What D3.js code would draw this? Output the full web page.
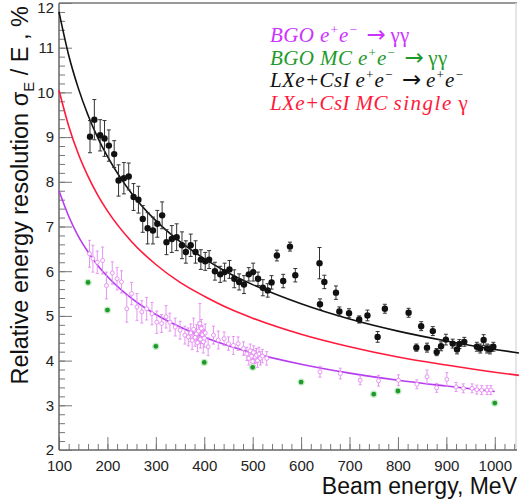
<!DOCTYPE html>
<html>
<head>
<meta charset="utf-8">
<script src="https://cdn.jsdelivr.net/npm/d3@7"></script>
<style>
  body { margin: 0; background: #fff; }
  svg { display: block; }
  .tick-label { font-family: "Liberation Sans", Arial, sans-serif; font-size: 15px; fill: #222; }
  .title { font-family: "Liberation Sans", Arial, sans-serif; font-size: 23px; fill: #111; }
  .legend { font-family: "Liberation Serif", "Times New Roman", serif; font-style: italic; font-size: 21px; letter-spacing: 0.4px; }
</style>
</head>
<body>
<div id="chart"></div>
<script>
// fit curves
var fitE = [100, 120, 140, 160, 180, 200, 250, 300, 350, 400, 450, 500, 600, 700, 800, 900, 1000, 1050];
var lxeFit = [11.8, 10.83, 10.09, 9.49, 8.99, 8.57, 7.74, 7.13, 6.66, 6.28, 5.96, 5.70, 5.27, 4.93, 4.66, 4.44, 4.25, 4.17];
var lxeMcFit = [10.05, 9.25, 8.62, 8.12, 7.70, 7.35, 6.66, 6.15, 5.75, 5.44, 5.17, 4.95, 4.59, 4.31, 4.08, 3.90, 3.74, 3.67];
var bgoFitE = [100, 120, 140, 160, 180, 200, 250, 300, 350, 400, 450, 500, 600, 700, 800, 900, 1000];
var bgoFit = [7.80, 7.23, 6.78, 6.43, 6.13, 5.88, 5.39, 5.03, 4.75, 4.52, 4.33, 4.17, 3.92, 3.72, 3.56, 3.43, 3.31];

// LXe+CsI e+e- -> e+e- data
var lxeE = [164, 173, 185, 194, 203, 214, 223, 234, 244, 254, 264, 273, 283, 294, 303, 313, 322, 333, 343, 354, 362, 372, 382,
  393, 402, 410, 422, 433, 442, 452, 462, 472, 482, 492, 501, 511, 521, 531, 539, 550, 563, 577, 588, 638, 639, 648, 672,
  679, 699, 720, 737, 758, 773, 822, 838, 848, 860, 872, 880, 889, 899, 913, 922, 927, 937, 963, 970, 977, 984, 990, 997];
var lxeRes = [9.01, 9.39, 9.04, 8.97, 8.81, 8.62, 8.03, 8.08, 8.12, 7.66, 7.60, 7.17, 6.96, 6.91, 7.06, 7.25, 6.65, 6.72, 6.76, 6.58, 6.43, 6.58, 6.43,
  6.26, 6.22, 6.26, 6.00, 5.93, 5.98, 6.04, 5.83, 5.76, 5.70, 5.93, 5.98, 5.83, 5.63, 5.57, 5.75, 6.35, 5.78, 6.55, 5.91, 6.18, 5.26, 5.76, 5.52,
  5.10, 5.06, 4.92, 5.01, 4.53, 5.16, 5.07, 4.29, 4.77, 4.29, 4.66, 4.19, 4.32, 4.47, 4.38, 4.25, 4.37, 4.42, 4.31, 4.27, 4.46, 4.27, 4.25, 4.31];
var lxeErr = [0.36, 0.45, 0.35, 0.4, 0.35, 0.3, 0.35, 0.35, 0.3, 0.3, 0.3, 0.3, 0.35, 0.3, 0.3, 0.3, 0.28, 0.3, 0.3, 0.3, 0.25, 0.25, 0.25,
  0.22, 0.2, 0.2, 0.2, 0.18, 0.2, 0.2, 0.2, 0.18, 0.2, 0.15, 0.2, 0.15, 0.18, 0.15, 0.15, 0.12, 0.15, 0.1, 0.15, 0.35, 0.12, 0.15, 0.15,
  0.1, 0.1, 0.08, 0.12, 0.12, 0.1, 0.1, 0.08, 0.1, 0.1, 0.1, 0.08, 0.1, 0.12, 0.1, 0.1, 0.1, 0.1, 0.1, 0.1, 0.12, 0.1, 0.1, 0.1];

// BGO e+e- -> gamma gamma data
var bgoE = [163, 170, 179, 190, 198, 210, 220, 229, 240, 250, 261, 271, 281, 292, 302, 312, 321, 329, 340, 350, 360, 367,
  372, 375, 378, 381, 384, 386, 388, 391, 392, 394, 396, 398, 400, 402, 408, 419, 429, 441, 450, 460, 470, 481,
  488, 492, 495, 498, 500, 502, 505, 508, 510, 513, 516, 520, 529,
  639, 681, 722, 760, 801, 839, 860, 880, 901, 920, 935, 953, 963, 973, 984, 992];
var bgoRes = [6.39, 6.28, 6.20, 6.24, 5.68, 5.96, 5.83, 5.76, 5.16, 5.50, 5.20, 5.09, 5.16, 5.05, 4.86, 4.83, 4.98, 4.86, 4.75, 4.68, 4.57, 4.53,
  4.62, 4.45, 4.70, 4.52, 4.60, 4.40, 4.66, 4.83, 4.48, 4.72, 4.58, 4.42, 4.50, 4.62, 4.31, 4.57, 4.46, 4.49, 4.38, 4.34, 4.38, 4.27,
  4.15, 4.05, 4.22, 4.10, 3.98, 4.18, 4.08, 4.12, 4.00, 4.15, 4.05, 4.10, 4.05,
  3.75, 3.71, 3.56, 3.55, 3.56, 3.47, 3.64, 3.39, 3.58, 3.41, 3.38, 3.38, 3.35, 3.34, 3.34, 3.34];
var bgoErr = [0.3, 0.3, 0.25, 0.3, 0.3, 0.25, 0.25, 0.25, 0.3, 0.25, 0.3, 0.25, 0.25, 0.25, 0.25, 0.2, 0.25, 0.2, 0.2, 0.2, 0.2, 0.2,
  0.2, 0.2, 0.25, 0.2, 0.2, 0.2, 0.2, 0.45, 0.2, 0.2, 0.2, 0.25, 0.2, 0.2, 0.2, 0.2, 0.2, 0.15, 0.15, 0.2, 0.15, 0.15,
  0.15, 0.15, 0.15, 0.15, 0.15, 0.15, 0.15, 0.15, 0.15, 0.15, 0.15, 0.15, 0.15,
  0.12, 0.12, 0.1, 0.12, 0.12, 0.1, 0.15, 0.1, 0.15, 0.1, 0.1, 0.1, 0.1, 0.1, 0.1, 0.1];

// BGO MC
var mcE = [160, 200, 300, 400, 500, 600, 750, 800, 1000];
var mcRes = [5.75, 5.13, 4.32, 3.96, 3.85, 3.52, 3.25, 3.32, 3.05];

var legendLines = ["BGO e^+e^- ~\u03b3\u03b3", "BGO MC e^+e^- ~\u03b3\u03b3", "LXe+CsI e^+e^- ~e^+e^-", "LXe+CsI MC single  \u03b3"];
var legendColors = ["#cc33ff", "#1f9a2a", "#111", "#ff1a3c"];

var width = 520, height = 504;
var mLeft = 59, mRight = 519, mTop = 3, mBottom = 450;

var svg = d3.select("#chart").append("svg").attr("width", width).attr("height", height);

var x = d3.scaleLinear().domain([100, 1050]).range([mLeft, mRight]);
var y = d3.scaleLinear().domain([2, 12]).range([mBottom, mTop]);

// frame
svg.append("line").attr("x1", mLeft).attr("x2", 517).attr("y1", mTop).attr("y2", mTop)
  .attr("stroke", "#999").attr("stroke-width", 2);
svg.append("line").attr("x1", 516).attr("x2", 516).attr("y1", mTop).attr("y2", mBottom)
  .attr("stroke", "#ddd").attr("stroke-width", 1.5);

// x axis, ticks pointing up into the plot
var xMajor = d3.axisBottom(x).tickValues(d3.range(100, 1001, 100)).tickSize(-13).tickPadding(18).tickFormat(d3.format("d"));
var xMinor = d3.axisBottom(x).tickValues(d3.range(100, 1050, 20)).tickSize(-6).tickFormat("");
var gxm = svg.append("g").attr("transform", "translate(0," + mBottom + ")").call(xMinor);
var gx = svg.append("g").attr("transform", "translate(0," + mBottom + ")").call(xMajor);
gxm.select(".domain").remove();
gx.select(".domain").attr("stroke", "#666").attr("stroke-width", 1.5).attr("d", "M" + mLeft + ",0H" + 517);
gx.selectAll("text").attr("class", "tick-label").attr("dy", "0.2em");

// y axis, ticks pointing right
var yMajor = d3.axisLeft(y).tickValues(d3.range(2, 12.01, 1)).tickSize(-13).tickPadding(18);
var yMinor = d3.axisLeft(y).tickValues(d3.range(2, 12.01, 0.2)).tickSize(-6).tickFormat("");
var gym = svg.append("g").attr("transform", "translate(" + mLeft + ",0)").call(yMinor);
var gy = svg.append("g").attr("transform", "translate(" + mLeft + ",0)").call(yMajor);
gym.select(".domain").remove();
gy.select(".domain").attr("stroke", "#666").attr("stroke-width", 1.5).attr("d", "M0," + mTop + "V" + mBottom);
gy.selectAll("text").attr("class", "tick-label").attr("dx", "13px").attr("dy", (d) => d === 12 ? "0.6em" : "0.32em");
svg.selectAll("g .tick line").attr("stroke", "#777");

// axis titles
svg.append("text").attr("class", "title").attr("x", 517).attr("y", 494)
  .attr("text-anchor", "end").text("Beam energy, MeV");

var yt = svg.append("text").attr("class", "title").attr("text-anchor", "end").style("font-size", "23.5px")
  .attr("transform", "translate(28,6) rotate(-90)");
yt.append("tspan").text("Relative energy resolution \u03c3");
yt.append("tspan").attr("font-size", "15px").attr("dy", 6).text("E");
yt.append("tspan").attr("dy", -6).text(" / E ,  %");

// fit curves
var line = d3.line().x((d) => x(d[0])).y((d) => y(d[1])).curve(d3.curveMonotoneX);
svg.append("path").datum(fitE.map((e, i) => [e, lxeMcFit[i]]))
  .attr("d", line).attr("fill", "none").attr("stroke", "#ff1a3c").attr("stroke-width", 1.6);
svg.append("path").datum(bgoFitE.map((e, i) => [e, bgoFit[i]]))
  .attr("d", line).attr("fill", "none").attr("stroke", "#b63cf0").attr("stroke-width", 1.6);

// BGO data (open circles)
var bgo = bgoE.map((e, i) => ({ e: e, v: bgoRes[i], err: bgoErr[i] }));
var bg = svg.append("g").attr("stroke", "#e48af2").attr("stroke-width", 0.9).attr("fill", "none");
bg.selectAll("line").data(bgo).enter().append("line")
  .attr("x1", (d) => x(d.e)).attr("x2", (d) => x(d.e))
  .attr("y1", (d) => y(d.v + d.err)).attr("y2", (d) => y(d.v - d.err));
bg.selectAll("path").data(bgo).enter().append("path")
  .attr("d", (d) => "M" + (x(d.e) - 1.5) + "," + y(d.v + d.err) + "h3M" + (x(d.e) - 1.5) + "," + y(d.v - d.err) + "h3");
bg.selectAll("circle").data(bgo).enter().append("circle")
  .attr("cx", (d) => x(d.e)).attr("cy", (d) => y(d.v)).attr("r", 2).attr("fill", "#fff");

// black curve
svg.append("path").datum(fitE.map((e, i) => [e, lxeFit[i]]))
  .attr("d", line).attr("fill", "none").attr("stroke", "#111").attr("stroke-width", 1.6);

// LXe data
var lxe = lxeE.map((e, i) => ({ e: e, v: lxeRes[i], err: lxeErr[i] }));
var lg = svg.append("g").attr("stroke", "#333").attr("stroke-width", 1);
lg.selectAll("line").data(lxe).enter().append("line")
  .attr("x1", (d) => x(d.e)).attr("x2", (d) => x(d.e))
  .attr("y1", (d) => y(d.v + d.err)).attr("y2", (d) => y(d.v - d.err));
lg.selectAll("path").data(lxe).enter().append("path").attr("fill", "none")
  .attr("d", (d) => "M" + (x(d.e) - 2) + "," + y(d.v + d.err) + "h4M" + (x(d.e) - 2) + "," + y(d.v - d.err) + "h4");
lg.selectAll("circle").data(lxe).enter().append("circle")
  .attr("cx", (d) => x(d.e)).attr("cy", (d) => y(d.v)).attr("r", 3.2).attr("fill", "#111").attr("stroke", "none");

// BGO MC points
svg.selectAll("circle.mc").data(mcE).enter().append("circle").attr("class", "mc")
  .attr("cx", (d) => x(d)).attr("cy", (d, i) => y(mcRes[i])).attr("r", 3)
  .attr("fill", "#1f9a2a").attr("stroke", "#c4ecc8").attr("stroke-width", 1.2);

// legend: ^+ / ^- superscripts, ~ is the arrow, gamma upright like the Symbol font
legendLines.forEach((s, i) => {
  var t = svg.append("text").attr("class", "legend").attr("x", 270).attr("y", 42 + i * 22.5)
    .attr("fill", legendColors[i]);
  var parts = s.split(/(\^[+-]|\u03b3+|~|single)/).filter((p) => p !== "");
  var shift = 0;
  parts.forEach((p) => {
    var ts;
    if (p[0] === "^") {
      t.append("tspan").attr("dy", -8 - shift).attr("font-size", "13px").text(p[1] === "-" ? "\u2212" : "+");
      shift = -8;
      return;
    }
    ts = t.append("tspan").attr("dy", -shift);
    shift = 0;
    if (p === "~") {
      ts.attr("dx", 3).style("font-style", "normal").style("font-family", "DejaVu Sans").style("letter-spacing", "0")
        .attr("font-size", "23px").text("\u2192\u2009");
    } else if (p[0] === "\u03b3") {
      ts.style("font-style", "normal").text(p);
    } else if (p === "single") {
      ts.style("letter-spacing", "1.5px").text(p);
    } else {
      ts.text(p);
    }
  });
});
</script>
</body>
</html>
